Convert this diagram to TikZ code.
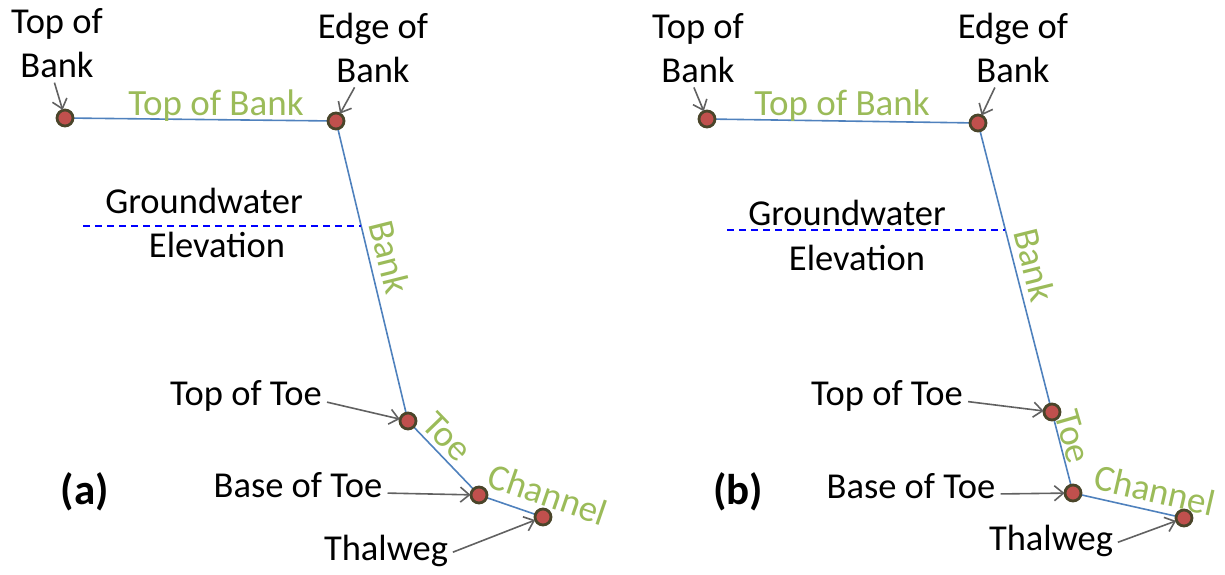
\documentclass[tikz,border=0pt]{standalone}
\usepackage{fontspec}
\setmainfont{Carlito}
\usetikzlibrary{arrows.meta}
\definecolor{profblue}{RGB}{79,129,189}
\definecolor{partgreen}{RGB}{155,187,89}
\definecolor{dotred}{RGB}{192,80,77}
\definecolor{dotrim}{RGB}{74,69,42}
\tikzset{
  dot/.style={circle,fill=dotred,draw=dotrim,line width=2.8pt,inner sep=0pt,minimum size=16pt},
  callout/.style={align=center,inner sep=0pt,font=\fontsize{36.5}{44}\selectfont},
  partname/.style={text=partgreen,inner sep=0pt,font=\fontsize{37}{44}\selectfont},
  pointer/.style={draw=black!62,line width=1.6pt,shorten <=5pt,shorten >=-1pt,
    -{Straight Barb[length=9pt,width=15pt]}},
  profile/.style={draw=profblue,line width=1.6pt},
  gwline/.style={draw=blue,line width=1.5pt,dash pattern=on 7pt off 5pt},
  panel/.style={inner sep=0pt,font=\fontsize{43}{48}\selectfont\bfseries}
}
\begin{document}
\begin{tikzpicture}[x=1pt,y=-1pt]
\useasboundingbox (0,0) rectangle (1225,574);

\coordinate (A1) at (65,118);
\coordinate (A2) at (336,121);
\coordinate (A3) at (408,421);
\coordinate (A4) at (479,495);
\coordinate (A5) at (543,517);
\coordinate (GA1) at (83,226);
\coordinate (GA2) at (361,226);

\coordinate (B1) at (707,119);
\coordinate (B2) at (978,123);
\coordinate (B3) at (1052,412);
\coordinate (B4) at (1073,493);
\coordinate (B5) at (1184,518);
\coordinate (GB1) at (727,230);
\coordinate (GB2) at (1005,230);

\draw[profile] (A1) -- (A2) -- (A3) -- (A4) -- (A5);
\draw[gwline] (GA1) -- (GA2);
\draw[profile] (B1) -- (B2) -- (B3) -- (B4) -- (B5);
\draw[gwline] (GB1) -- (GB2);

\node[dot] (dA1) at (A1) {};
\node[dot] (dA2) at (A2) {};
\node[dot] (dA3) at (A3) {};
\node[dot] (dA4) at (A4) {};
\node[dot] (dA5) at (A5) {};
\node[dot] (dB1) at (B1) {};
\node[dot] (dB2) at (B2) {};
\node[dot] (dB3) at (B3) {};
\node[dot] (dB4) at (B4) {};
\node[dot] (dB5) at (B5) {};

\node[partname,anchor=base] (ptbA) at (216,115) {Top of Bank};
\node[partname,rotate=-76] (pbkA) at (390,257) {Bank};
\node[partname,rotate=-46] (ptoA) at (447,437) {Toe};
\node[partname,rotate=-19] (pchA) at (548,494) {Channel};
\node[partname,anchor=base] (ptbB) at (842,115) {Top of Bank};
\node[partname,rotate=-76] (pbkB) at (1035,265) {Bank};
\node[partname,rotate=-74] (ptoB) at (1073,437) {Toe};
\node[partname,rotate=-13] (pchB) at (1155,490) {Channel};

\node[callout] (tbA) at (57,43) {Top of\\Bank};
\node[callout] (ebA) at (373,48) {Edge of\\Bank};
\node[callout,anchor=base] (gwA) at (204,213) {Groundwater};
\node[callout,anchor=base] (elA) at (217,257) {Elevation};
\node[callout,anchor=base] (ttA) at (246,405) {Top of Toe};
\node[callout,anchor=base] (btA) at (298,497) {Base of Toe};
\node[callout,anchor=base] (thA) at (386,560) {Thalweg};
\node[panel] (labA) at (85,492) {(a)};

\node[callout] (tbB) at (698,48) {Top of\\Bank};
\node[callout] (ebB) at (1013,48) {Edge of\\Bank};
\node[callout,anchor=base] (gwB) at (847,225) {Groundwater};
\node[callout,anchor=base] (elB) at (857,270) {Elevation};
\node[callout,anchor=base] (ttB) at (887,405) {Top of Toe};
\node[callout,anchor=base] (btB) at (911,498) {Base of Toe};
\node[callout,anchor=base] (thB) at (1051,550) {Thalweg};
\node[panel] (labB) at (738,492) {(b)};

\draw[pointer] ([xshift=-4pt]tbA.south) -- (dA1);
\draw[pointer] ([xshift=-16pt]ebA.south) -- (dA2);
\draw[pointer] ([yshift=4pt]ttA.base east) -- (dA3);
\draw[pointer] ([yshift=4pt]btA.base east) -- (dA4);
\draw[pointer] ([yshift=6pt]thA.base east) -- (dA5);
\draw[pointer] ([xshift=-6pt]tbB.south) -- (dB1);
\draw[pointer] ([xshift=-16pt]ebB.south) -- (dB2);
\draw[pointer] ([yshift=4pt]ttB.base east) -- (dB3);
\draw[pointer] ([yshift=4pt]btB.base east) -- (dB4);
\draw[pointer] ([yshift=6pt]thB.base east) -- (dB5);

\end{tikzpicture}
\end{document}
